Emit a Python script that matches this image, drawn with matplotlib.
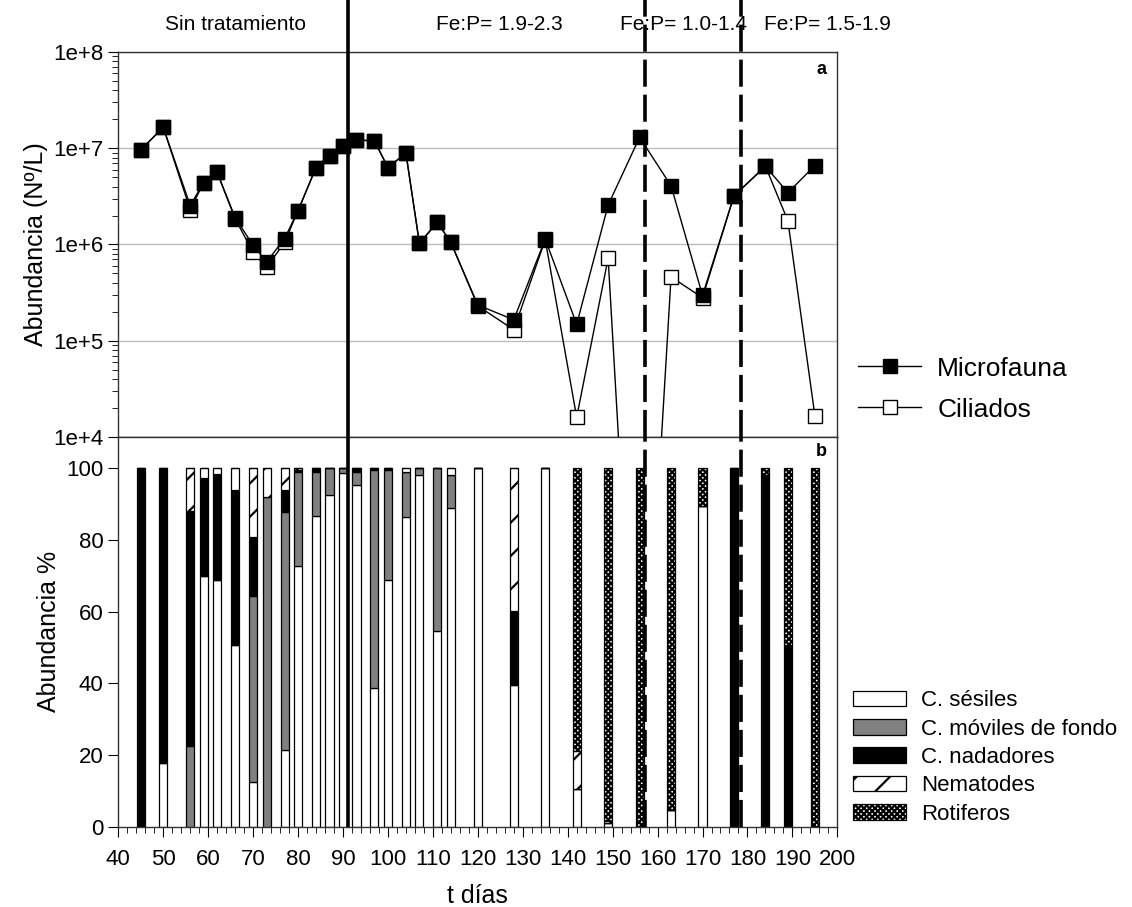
import matplotlib
matplotlib.use("Agg")
import matplotlib.pyplot as plt
from matplotlib.ticker import MultipleLocator, LogLocator, NullFormatter, FixedLocator

plt.rcParams['font.family'] = ['Liberation Sans', 'DejaVu Sans']
plt.rcParams['hatch.linewidth'] = 1.6

# dias de muestreo
dias = [45, 50, 56, 59, 62, 66, 70, 73, 77, 80, 84, 87, 90, 93, 97, 100, 104, 107,
        111, 114, 120, 128, 135, 142, 149, 156, 163, 170, 177, 184, 189, 195]

# abundancia (N/L) panel a
microfauna = [9.6e6, 1.65e7, 2.54e6, 4.4e6, 5.6e6, 1.9e6, 9.8e5, 6.6e5, 1.15e6, 2.25e6,
              6.3e6, 8.4e6, 1.05e7, 1.22e7, 1.19e7, 6.3e6, 8.9e6, 1.03e6, 1.7e6, 1.05e6,
              2.35e5, 1.65e5, 1.14e6, 1.48e5, 2.57e6, 1.3e7, 4.07e6, 2.96e5, 3.2e6,
              6.5e6, 3.45e6, 6.6e6]
ciliados = [9.6e6, 1.65e7, 2.3e6, 4.4e6, 5.6e6, 1.85e6, 8.3e5, 5.8e5, 1.05e6, 2.25e6,
            6.3e6, 8.4e6, 1.05e7, 1.22e7, 1.19e7, 6.3e6, 8.9e6, 1.03e6, 1.7e6, 1.05e6,
            2.3e5, 1.3e5, 1.12e6, 1.6e4, 7.2e5, 1.5, 4.6e5, 2.8e5, 3.2e6,
            6.5e6, 1.76e6, 1.67e4]

# porcentajes panel b
sesiles = [0, 17.7, 0, 70, 68.7, 50.7, 12.6, 0, 21.5, 72.6, 86.6, 92.5, 98.6, 95.3, 38.8,
           68.7, 86.3, 98.1, 54.5, 88.8, 100, 39.5, 100, 10.5, 1, 0, 4.7, 89.5, 0, 0, 0, 0]
moviles = [0, 0, 22.4, 0, 0, 0, 51.8, 92, 66.2, 26.4, 12.4, 7.5, 1.4, 3.7, 60.7,
           30.8, 12.7, 1.9, 45.5, 9.3, 0, 0, 0, 0, 0, 0, 0, 0, 0, 0, 0, 0]
nadadores = [100, 82.3, 65.6, 27.4, 29.8, 43.3, 16.4, 0, 6.3, 0.5, 1, 0, 0, 1, 0.5,
             0.5, 0, 0, 0, 0, 0, 20.8, 0, 0, 0, 0, 0, 0, 100, 98.1, 50.7, 0]
nematodes = [0, 0, 12, 2.6, 1.5, 6, 19.2, 8, 6, 0.5, 0, 0, 0, 0, 0,
             0, 1, 0, 0, 1.9, 0, 39.7, 0, 10.7, 0.5, 0, 0, 0, 0, 0, 0, 0]
rotiferos = [0, 0, 0, 0, 0, 0, 0, 0, 0, 0, 0, 0, 0, 0, 0,
             0, 0, 0, 0, 0, 0, 0, 0, 78.8, 98.5, 100, 95.3, 10.5, 0, 1.9, 49.3, 100]

lineas_solidas = [91.2]
lineas_rayas = [157.3, 178.5]
tratamientos = [("Sin tratamiento", 66), ("Fe:P= 1.9-2.3", 124.8),
                ("Fe:P= 1.0-1.4", 165.8), ("Fe:P= 1.5-1.9", 197.8)]

fig = plt.figure(figsize=(11.32, 9.07), dpi=100)
ax1 = fig.add_axes([0.1045, 0.5182, 0.6352, 0.4245])
ax2 = fig.add_axes([0.1045, 0.0885, 0.6352, 0.4297], sharex=ax1)

# panel a
ax1.plot(dias, ciliados, '-s', color='black', lw=1, ms=10, mfc='white', mec='black',
         mew=1, label='Ciliados', zorder=3)
ax1.plot(dias, microfauna, '-s', color='black', lw=1, ms=10, mfc='black', mec='black',
         label='Microfauna', zorder=4)
ax1.set_yscale('log')
ax1.set_ylim(1e4, 1e8)
ax1.set_xlim(40, 200)
ax1.yaxis.set_major_locator(FixedLocator([1e4, 1e5, 1e6, 1e7, 1e8]))
ax1.set_yticklabels(['1e+4', '1e+5', '1e+6', '1e+7', '1e+8'])
ax1.yaxis.set_minor_locator(LogLocator(base=10, subs=range(2, 10)))
ax1.yaxis.set_minor_formatter(NullFormatter())
ax1.grid(axis='y', which='major', color='#bdbdbd', lw=1)
ax1.tick_params(axis='x', which='both', bottom=False, labelbottom=False)
ax1.tick_params(axis='y', which='major', direction='out', length=7, labelsize=16)
ax1.tick_params(axis='y', which='minor', direction='out', length=4)
ax1.set_ylabel("Abundancia (Nº/L)", fontsize=18)
ax1.text(0.985, 0.955, 'a', transform=ax1.transAxes, ha='right', va='center',
         fontsize=13, fontweight='bold')

# panel b
ancho = 1.8
base = [0] * len(dias)
estilos = [
    (sesiles, 'C. sésiles', dict(color='white')),
    (moviles, 'C. móviles de fondo', dict(color='#808080')),
    (nadadores, 'C. nadadores', dict(color='black')),
    (nematodes, 'Nematodes', dict(color='white', hatch='/')),
    (rotiferos, 'Rotiferos', dict(color='white', hatch='xxxxxx')),
]
barras = []
for valores, nombre, est in estilos:
    b = ax2.bar(dias, valores, width=ancho, bottom=base, facecolor=est['color'],
                edgecolor='black', linewidth=0.9, hatch=est.get('hatch'), label=nombre)
    barras.append(b)
    base = [p + v for p, v in zip(base, valores)]

ax2.set_ylim(0, 108.7)
ax2.set_yticks([0, 20, 40, 60, 80, 100])
ax2.xaxis.set_major_locator(MultipleLocator(10))
ax2.xaxis.set_minor_locator(MultipleLocator(2))
ax2.tick_params(axis='x', which='major', direction='out', length=7, labelsize=16, pad=9)
ax2.tick_params(axis='x', which='minor', direction='out', length=4)
ax2.tick_params(axis='y', direction='out', length=7, labelsize=16)
ax2.set_ylabel("Abundancia %", fontsize=18)
ax2.set_xlabel("t días", fontsize=18, labelpad=10)
ax2.text(0.985, 0.964, 'b', transform=ax2.transAxes, ha='right', va='center',
         fontsize=13, fontweight='bold')

for ax in (ax1, ax2):
    for s in ax.spines.values():
        s.set_linewidth(1.0)
        s.set_color('#333333')

# lineas de tratamiento
for x in lineas_solidas:
    ax1.axvline(x, ymin=0, ymax=1.137, color='black', lw=2.6, clip_on=False, zorder=5)
    ax2.axvline(x, color='black', lw=2.6, zorder=5)
for x in lineas_rayas:
    ax1.axvline(x, ymin=0, ymax=1.137, color='black', lw=2.6, dashes=(7.5, 2.2),
                clip_on=False, zorder=5)
    ax2.axvline(x, color='black', lw=2.6, dashes=(7.5, 2.2), zorder=5)

for texto, x in tratamientos:
    ax1.text(x, 1.072, texto, transform=ax1.get_xaxis_transform(), ha='center',
             va='center', fontsize=15, clip_on=False)

h, l = ax1.get_legend_handles_labels()
fig.legend(h[::-1], l[::-1], loc='center left', bbox_to_anchor=(0.737, 0.571),
           frameon=False, fontsize=19, handlelength=2.4, handletextpad=0.6,
           labelspacing=0.65)
fig.legend(barras, [e[1] for e in estilos], loc='center left',
           bbox_to_anchor=(0.736, 0.165), frameon=False, fontsize=16,
           handlelength=2.4, handleheight=0.7, handletextpad=0.65, labelspacing=0.33)

fig.savefig('out.png', dpi=100)
